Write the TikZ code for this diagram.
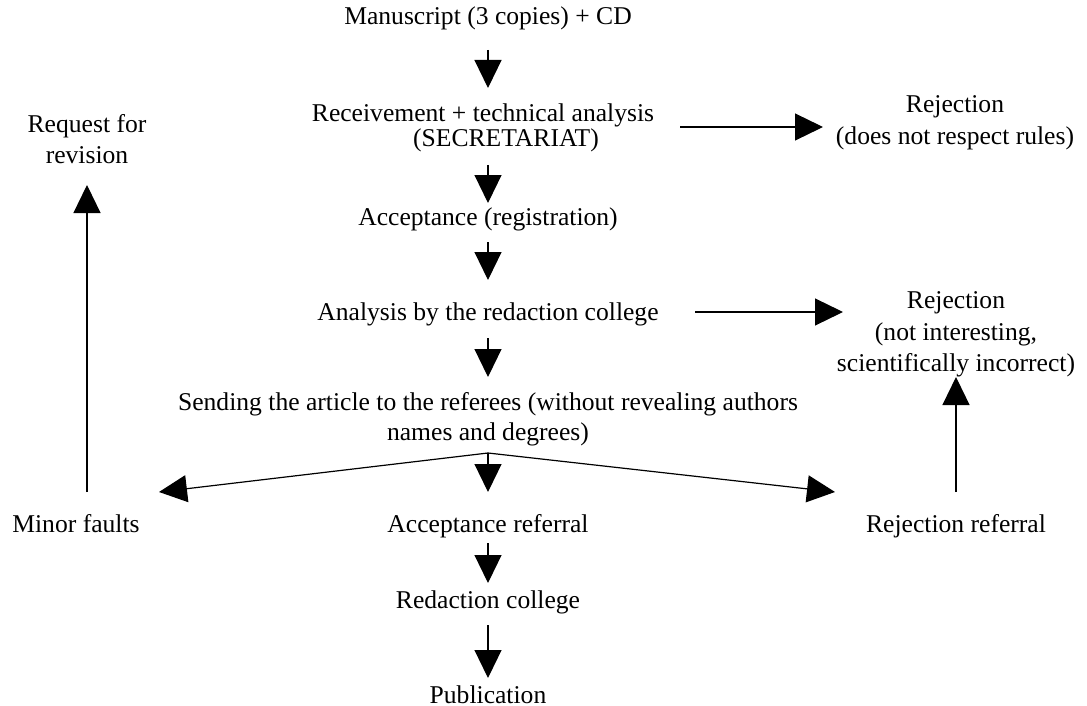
\documentclass[tikz,border=0pt]{standalone}
\usepackage{fontspec}
\setmainfont{Liberation Serif}
\usetikzlibrary{arrows.meta,calc}

\begin{document}
\begin{tikzpicture}[x=0.5pt,y=-0.5pt,
    lbl/.style={anchor=base, inner sep=0pt, align=center, font=\fontsize{12.8}{15.5}\selectfont},
    arr/.style={line width=0.6pt, -{Triangle[length=14pt,width=13.5pt]}}]
\useasboundingbox (0,0) rectangle (1087,706);

% main column (base = last line)
\node[lbl] (manu) at (488,25) {Manuscript (3 copies) + CD};
\node[lbl] (recv) at (488,147) {Receivement + technical analysis\hspace*{5pt}\\[-3pt]\hspace*{18pt}(SECRETARIAT)};
\node[lbl] (acc) at (488,225) {Acceptance (registration)};
\node[lbl] (ana) at (488,320) {Analysis by the redaction college};
\node[lbl] (send) at (488,440) {Sending the article to the referees (without revealing authors\\[-0.5pt]names and degrees)};
\node[lbl] (accref) at (488,532) {Acceptance referral};
\node[lbl] (red) at (488,608) {Redaction college};
\node[lbl] (pub) at (488,703) {Publication};

% side nodes
\node[lbl] (rej1) at (955,145) {Rejection\\[1pt](does not respect rules)};
\node[lbl] (rej2) at (956,371) {Rejection\\[0.5pt](not interesting,\\scientifically incorrect)};
\node[lbl] (req) at (87,163) {Request for\\revision};
\node[lbl] (minor) at (76,532) {Minor faults};
\node[lbl] (rejref) at (956,532) {Rejection referral};

\coordinate (split) at ($(send.base)+(0,13)$);

% arrows
\draw[arr] ($(manu.base)+(0,25)$) -- ($(recv.base)+(0,-59)$);
\draw[arr] ($(recv.base)+(0,18)$) -- ($(acc.base)+(0,-22)$);
\draw[arr] ($(acc.base)+(0,17)$) -- ($(ana.base)+(0,-40)$);
\draw[arr] ($(ana.base)+(0,18)$) -- ($(send.base)+(0,-63)$);
\draw[arr] ($(accref.base)+(0,11)$) -- ($(red.base)+(0,-25)$);
\draw[arr] ($(red.base)+(0,17)$) -- ($(pub.base)+(0,-25)$);

\draw[arr] ($(recv.base)+(192,-20)$) -- ($(rej1.base)+(-132,-18)$);
\draw[arr] ($(ana.base)+(207,-8)$) -- ($(rej2.base)+(-113,-59)$);

\draw[arr] (split) -- ($(minor.base)+(83,-40)$);
\draw[arr] (split) -- ($(accref.base)+(0,-40)$);
\draw[arr] (split) -- ($(rejref.base)+(-121,-40)$);

\draw[arr] ($(minor.base)+(11,-40)$) -- ($(req.base)+(0,22)$);
\draw[arr] ($(rejref.base)+(0,-40)$) -- ($(rej2.base)+(0,6)$);
\end{tikzpicture}
\end{document}
